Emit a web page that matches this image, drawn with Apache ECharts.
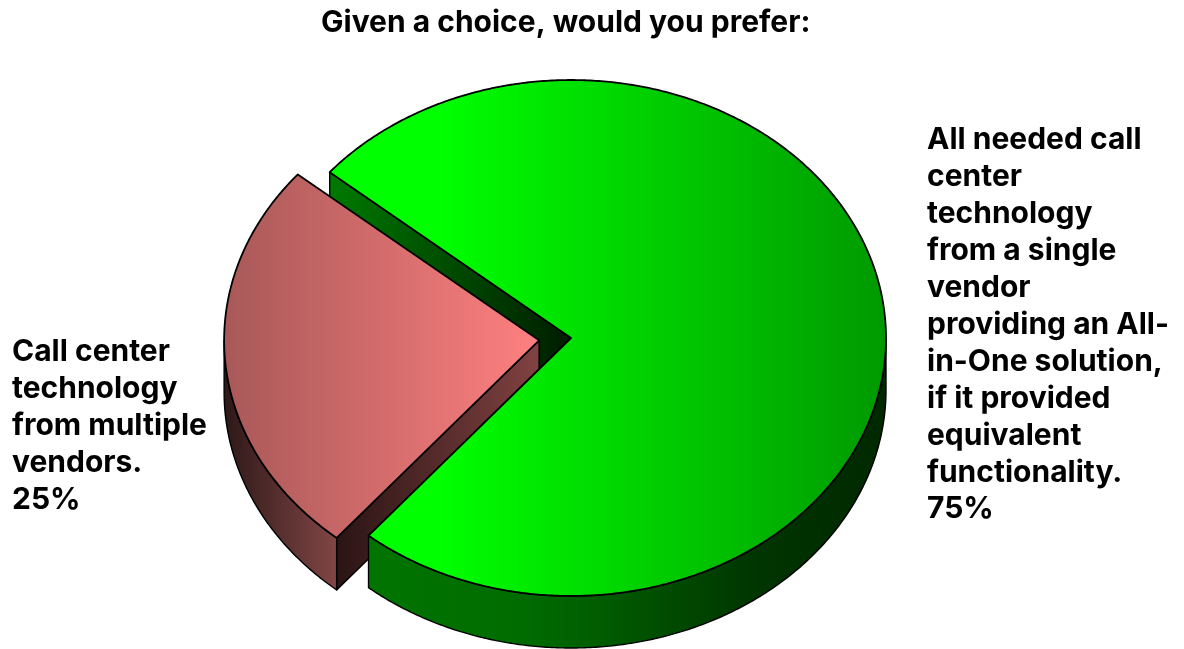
<!DOCTYPE html>
<html>
<head>
<meta charset="utf-8">
<style>html,body{margin:0;padding:0;background:#fff}#c{width:1184px;height:649px}</style>
<script src="https://cdn.jsdelivr.net/npm/echarts@6/dist/echarts.min.js"></script>
</head>
<body>
<div id="c"></div>
<script>
var chartTitle = 'Given a choice, would you prefer:';
var categories = [
  'All needed call\ncenter\ntechnology\nfrom a single\nvendor\nproviding an All-\nin-One solution,\nif it provided\nequivalent\nfunctionality.',
  'Call center\ntechnology\nfrom multiple\nvendors.'
];
var values = [75, 25];

var FONT = 'Inter, "Noto Sans", sans-serif';
var CX = 571, CY = 338, RX = 315, RY = 258, DEPTH = 52, START = 140;
var EXPLODE = [0, 32];

function grad(stops) {
  return { type: 'linear', x: 0, y: 0, x2: 1, y2: 0,
    colorStops: stops.map(function (s) { return { offset: s[0], color: s[1] }; }) };
}
var topFill = [
  grad([[0, '#00ff00'], [0.2, '#00ff00'], [1, '#009900']]),
  grad([[0, '#a85858'], [1, '#ff8080']])
];
var rimFill = [
  grad([[0, '#007400'], [0.3, '#006c00'], [0.45, '#005c00'], [0.75, '#003500'], [1, '#002800']]),
  grad([[0, '#2e1818'], [1, '#824646']])
];
var cutFill = [
  grad([[0, '#007a00'], [1, '#001c00']]),
  grad([[0, '#2a1414'], [1, '#824242']])
];
var total = values.reduce(function (a, b) { return a + b; }, 0);

function renderSlice(params, api) {
  var i = params.dataIndex;
  var before = 0;
  for (var k = 0; k < i; k++) before += values[k];
  var a0 = START - before / total * 360;
  var a1 = a0 - api.value(0) / total * 360;
  var mid = (a0 + a1) / 2 * Math.PI / 180;
  var ox = CX + EXPLODE[i] * Math.cos(mid);
  var oy = CY - EXPLODE[i] * Math.sin(mid) * RY / RX;
  function pt(deg, drop) {
    var r = deg * Math.PI / 180;
    return [ox + RX * Math.cos(r), oy - RY * Math.sin(r) + (drop || 0)];
  }
  function arc(from, to, drop) {
    var out = [], n = Math.max(2, Math.ceil(Math.abs(from - to) * 2));
    for (var j = 0; j <= n; j++) out.push(pt(from + (to - from) * j / n, drop));
    return out;
  }
  var cutZ = i === 0 ? 1 : 2, restZ = i === 0 ? 3 : 2;
  function face(points, fill, z, lw) {
    return { type: 'polygon', z2: z, silent: true, shape: { points: points },
      style: { fill: fill, stroke: '#000', lineWidth: lw || 1.4, lineJoin: 'round' } };
  }
  var children = [];
  var c = [ox, oy], cd = [ox, oy + DEPTH];
  [a0, a1].forEach(function (a, idx) {
    var cosA = Math.cos(a * Math.PI / 180);
    if ((idx === 0 && cosA < 0) || (idx === 1 && cosA > 0)) {
      children.push(face([c, pt(a), pt(a, DEPTH), cd], cutFill[i], cutZ));
    }
  });
  var lo = Math.max(a1, -180), hi = Math.min(a0, 0);
  if (hi > lo) {
    children.push(face(arc(hi, lo, 0).concat(arc(lo, hi, DEPTH)), rimFill[i], restZ));
  }
  children.push(face([c].concat(arc(a0, a1, 0)), topFill[i], restZ, 1.8));
  return { type: 'group', children: children };
}

var chart = echarts.init(document.getElementById('c'), null, { renderer: 'canvas' });
chart.setOption({
  animation: false,
  backgroundColor: '#fff',
  title: {
    text: chartTitle, left: 316, top: 3,
    textStyle: { fontFamily: FONT, fontSize: 30, fontWeight: 'bold', color: '#000' }
  },
  series: [{
    type: 'custom',
    coordinateSystem: 'none',
    renderItem: renderSlice,
    data: values.map(function (v, i) { return { value: [v], name: categories[i] }; }),
    silent: true
  }],
  graphic: [
    { type: 'text', left: 927, top: 122, silent: true,
      style: { text: categories[0] + '\n' + values[0] + '%', font: 'bold 30px ' + FONT, lineHeight: 36.9, fill: '#000' } },
    { type: 'text', left: 12, top: 334, silent: true,
      style: { text: categories[1] + '\n' + values[1] + '%', font: 'bold 30px ' + FONT, lineHeight: 36.9, fill: '#000' } }
  ]
});
</script>
</body>
</html>
